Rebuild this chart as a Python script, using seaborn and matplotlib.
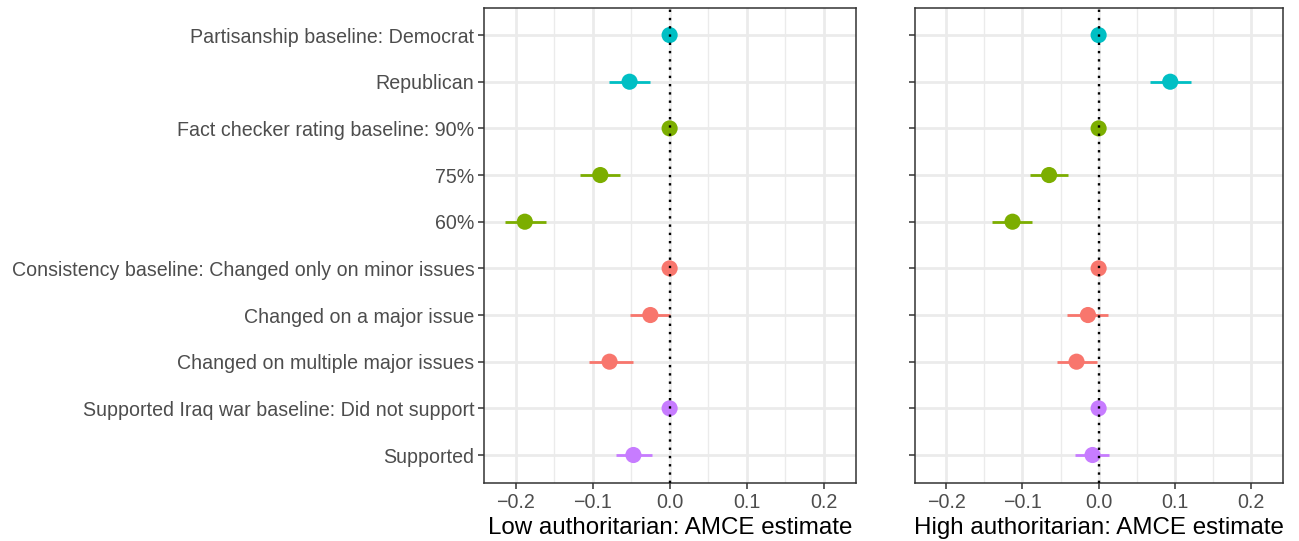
import numpy as np
import pandas as pd
import matplotlib
matplotlib.use("Agg")
import matplotlib.pyplot as plt
from matplotlib.ticker import MultipleLocator
import seaborn as sns

labels = [
    "Partisanship baseline: Democrat",
    "Republican",
    "Fact checker rating baseline: 90%",
    "75%",
    "60%",
    "Consistency baseline: Changed only on minor issues",
    "Changed on a major issue",
    "Changed on multiple major issues",
    "Supported Iraq war baseline: Did not support",
    "Supported",
]
groups = ["Partisanship", "Partisanship", "Fact", "Fact", "Fact",
          "Consistency", "Consistency", "Consistency", "Iraq", "Iraq"]

low_est = [0.0, -0.052, 0.0, -0.090, -0.188, 0.0, -0.025, -0.078, 0.0, -0.047]
low_lo = [0.0, -0.079, 0.0, -0.116, -0.214, 0.0, -0.052, -0.105, 0.0, -0.070]
low_hi = [0.0, -0.025, 0.0, -0.064, -0.160, 0.0, 0.001, -0.048, 0.0, -0.023]

high_est = [0.0, 0.094, 0.0, -0.065, -0.113, 0.0, -0.014, -0.029, 0.0, -0.008]
high_lo = [0.0, 0.068, 0.0, -0.090, -0.140, 0.0, -0.041, -0.055, 0.0, -0.031]
high_hi = [0.0, 0.121, 0.0, -0.040, -0.087, 0.0, 0.012, -0.002, 0.0, 0.014]

titles = ["Low authoritarian: AMCE estimate", "High authoritarian: AMCE estimate"]
xticks = [-0.2, -0.1, 0.0, 0.1, 0.2]

palette = {"Consistency": "#F8766D", "Fact": "#7CAE00",
           "Partisanship": "#00BFC4", "Iraq": "#C77CFF"}

sns.set_theme(style="white")
plt.rcParams["font.family"] = ["Liberation Sans", "DejaVu Sans"]

W, H = 1299, 541
fig = plt.figure(figsize=(W / 100, H / 100), dpi=100)
ax1 = fig.add_axes([484 / W, 1 - 483 / H, (856 - 484) / W, (483 - 8) / H])
ax2 = fig.add_axes([915 / W, 1 - 483 / H, (1283 - 915) / W, (483 - 8) / H])

ypos = np.arange(len(labels))
for ax, est, lo, hi, title in [(ax1, low_est, low_lo, low_hi, titles[0]),
                               (ax2, high_est, high_lo, high_hi, titles[1])]:
    df = pd.DataFrame({"y": ypos, "est": est, "lo": lo, "hi": hi, "group": groups})
    ax.set_axisbelow(True)
    ax.xaxis.set_minor_locator(MultipleLocator(0.05))
    ax.grid(True, which="major", color="#EBEBEB", linewidth=2.0)
    ax.grid(True, which="minor", axis="x", color="#EBEBEB", linewidth=1.0)
    for _, r in df.iterrows():
        ax.plot([r["lo"], r["hi"]], [r["y"], r["y"]], color=palette[r["group"]],
                linewidth=2.0, solid_capstyle="butt", zorder=2)
    sns.scatterplot(data=df, x="est", y="y", hue="group", palette=palette,
                    s=135, edgecolor="none", legend=False, ax=ax, zorder=3)
    ax.axvline(0, color="black", linestyle=(0, (1, 2.5)), linewidth=1.7, zorder=4)
    ax.set_xlim(-0.241, 0.242)
    ax.set_ylim(len(labels) - 0.4, -0.58)
    ax.set_yticks(ypos)
    ax.set_xticks(xticks)
    ax.set_xticklabels([f"{v:.1f}".replace("-", "\u2212") for v in xticks])
    ax.set_xlabel(title, fontsize=17.4, color="black", labelpad=4)
    ax.set_ylabel("")
    for sp in ax.spines.values():
        sp.set_color("#333333")
        sp.set_linewidth(1.1)
    ax.tick_params(axis="both", which="major", length=4, width=1.1, color="#333333",
                   labelsize=14.1, labelcolor="#4D4D4D", pad=3, direction="out")
    ax.tick_params(axis="x", which="minor", length=0)
    ax.tick_params(left=True, bottom=True)

ax1.set_yticklabels(labels)
ax2.set_yticklabels([])

fig.savefig("out.png", dpi=100)
